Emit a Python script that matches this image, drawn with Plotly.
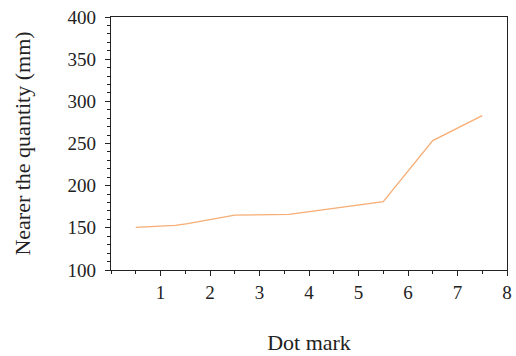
import plotly.graph_objects as go

dot_mark = [0.5, 1.3, 1.55, 2.5, 3.6, 4.5, 5.5, 6.5, 7.5]
quantity = [150.5, 153, 155, 165, 166, 173, 181, 253.5, 283]

x_tickvals = [1, 2, 3, 4, 5, 6, 7, 8]
y_tickvals = [100, 150, 200, 250, 300, 350, 400]

font_family = "Liberation Serif, DejaVu Serif, serif"

fig = go.Figure()
fig.add_trace(go.Scatter(
    x=dot_mark, y=quantity, mode="lines",
    line=dict(color="#F7AD74", width=1.3),
    showlegend=False,
))

fig.update_layout(
    width=516, height=356,
    margin=dict(l=111, r=9, t=17, b=86),
    paper_bgcolor="white", plot_bgcolor="white",
    font=dict(family=font_family, size=19, color="#222"),
)
fig.update_xaxes(
    range=[0, 8], tickvals=x_tickvals, automargin=False,
    showgrid=False, zeroline=False,
    showline=True, linecolor="#222", linewidth=1.2, mirror=True,
    ticks="outside", ticklen=5, tickcolor="#222", tickwidth=1,
    minor=dict(dtick=0.5, ticks="outside", ticklen=3, tickcolor="#222", tickwidth=1),
    tickfont=dict(size=19),
    title=dict(text="Dot mark", font=dict(size=22), standoff=32),
)
fig.update_yaxes(
    range=[100, 400], tickvals=y_tickvals, automargin=False,
    showgrid=False, zeroline=False,
    showline=True, linecolor="#222", linewidth=1.2, mirror=True,
    ticks="outside", ticklen=5, tickcolor="#222", tickwidth=1,
    ticklabelstandoff=5,
    minor=dict(dtick=10, ticks="outside", ticklen=3, tickcolor="#222", tickwidth=1),
    tickfont=dict(size=19),
    title=dict(text="Nearer the quantity (mm)", font=dict(size=22), standoff=30),
)

fig.write_html("out.html")
